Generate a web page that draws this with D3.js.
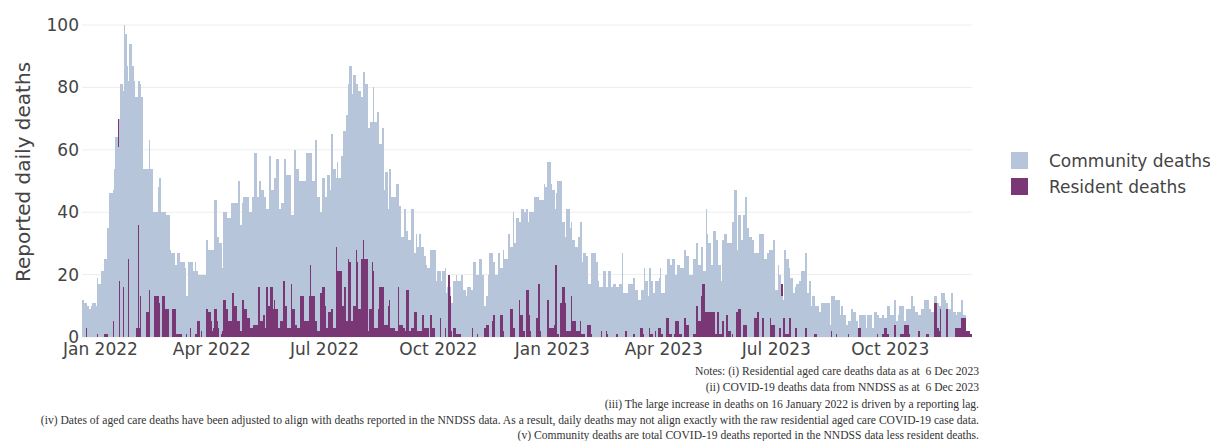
<!DOCTYPE html>
<html>
<head>
<meta charset="utf-8">
<script src="https://cdn.jsdelivr.net/npm/d3@7"></script>
<style>
  body { margin: 0; background: #fff; }
  svg text { font-family: "DejaVu Sans", Verdana, sans-serif; }
</style>
</head>
<body>
<div id="chart"></div>
<script>
// daily series, first bar is 18 Dec 2021
const startDate = "2021-12-18";

// height of the stacked bar (total reported deaths per day)
const totalDeaths = [
  12,12,11,11,10,10,9,10,11,11,
  11,10,19,17,17,21,21,21,25,25,
  35,35,46,46,46,47,54,64,64,70,
  70,81,81,79,100,97,87,82,94,94,
  87,87,82,77,77,82,82,81,77,54,
  54,54,54,54,63,54,54,40,40,40,
  40,48,51,51,40,40,40,40,39,39,
  39,28,27,27,27,23,23,27,27,24,
  24,24,24,22,13,13,24,24,24,24,
  21,24,21,21,20,20,20,20,20,20,
  31,31,28,28,28,28,28,44,44,32,
  32,30,30,22,40,40,40,38,38,38,
  43,43,43,43,43,43,50,50,36,43,
  45,45,45,45,45,40,40,45,45,59,
  59,45,45,50,50,47,47,45,45,41,
  41,58,58,47,47,51,51,57,57,41,
  41,43,43,57,57,52,52,52,52,39,
  39,60,60,54,54,50,50,50,50,50,
  50,59,59,59,59,59,50,50,63,63,
  45,45,40,40,51,51,45,45,52,52,
  47,65,65,54,54,51,56,51,51,58,
  58,66,66,71,71,81,87,87,78,84,
  84,81,81,79,79,77,77,85,85,81,
  81,67,67,69,69,80,69,69,72,72,
  62,62,67,67,47,53,53,41,54,54,
  45,45,45,45,49,49,42,42,32,32,
  41,41,34,31,31,31,41,41,27,27,
  33,29,33,33,29,29,26,26,23,22,
  22,28,28,28,28,28,18,21,21,21,
  18,21,21,22,14,16,20,16,11,11,
  18,18,20,18,18,18,20,20,15,15,
  13,16,16,16,15,15,24,24,20,20,
  20,25,25,20,20,10,13,13,20,27,
  27,27,24,24,20,20,27,27,22,22,
  28,25,25,25,33,33,29,29,40,30,
  30,38,38,37,37,41,41,40,40,41,
  37,40,40,40,40,45,45,45,45,44,
  44,44,44,49,48,48,56,56,56,49,
  47,47,41,46,50,50,50,50,37,37,
  32,41,41,41,35,37,31,31,29,29,
  29,32,37,37,24,27,27,26,26,17,
  17,27,27,27,27,24,24,18,16,16,
  16,21,21,16,16,21,21,16,16,17,
  17,16,16,16,17,17,27,14,14,14,
  14,17,17,17,17,19,19,15,15,12,
  12,12,15,15,22,18,18,13,22,22,
  18,14,14,18,18,18,19,22,14,14,
  14,20,20,25,25,23,23,25,25,20,
  20,23,23,22,22,22,28,28,26,26,
  20,20,20,20,25,25,30,30,23,23,
  29,29,21,21,41,33,30,30,23,23,
  34,34,31,31,23,23,18,31,31,33,
  33,30,30,30,30,37,37,47,47,28,
  39,39,31,31,39,39,45,35,35,32,
  32,31,31,27,27,27,27,33,33,33,
  33,25,25,27,27,28,28,28,31,31,
  15,15,23,20,20,17,12,28,28,25,
  25,22,19,19,14,14,16,17,17,18,
  18,21,21,21,27,27,14,18,18,10,
  13,13,10,10,10,8,8,11,11,11,
  11,11,11,11,4,13,13,13,12,12,
  12,12,7,10,10,7,7,4,4,5,
  5,9,9,8,8,5,5,3,7,7,
  7,7,7,3,7,7,7,7,3,3,
  8,8,7,7,6,6,7,7,6,6,
  10,10,10,7,7,7,12,12,5,7,
  10,10,10,10,5,5,9,9,9,9,
  13,10,10,8,8,7,7,7,9,9,
  12,12,12,12,9,9,8,8,13,13,
  13,11,10,10,14,14,14,12,11,11,
  9,9,14,14,8,8,7,8,8,8,
  12,12,7,7,2,2,2,1,1
];

const residentDeaths = [
  0,0,0,3,0,0,0,0,0,0,
  0,0,1,0,0,0,0,0,1,1,
  1,0,0,0,0,5,0,0,0,9,
  18,0,0,16,0,0,0,25,0,0,
  0,0,0,0,3,36,3,13,0,0,
  0,0,8,8,15,0,0,0,13,13,
  13,13,11,0,0,13,13,9,9,9,
  0,0,0,9,9,9,1,1,1,1,
  1,0,0,0,1,0,0,3,0,0,
  0,1,1,5,5,0,2,0,0,0,
  9,9,8,8,5,2,3,9,9,5,
  3,0,1,2,12,12,9,9,5,5,
  5,14,14,10,10,5,5,5,2,12,
  12,9,9,6,6,6,3,3,4,4,
  4,4,16,16,5,5,7,7,3,16,
  10,10,16,16,9,12,9,9,3,3,
  5,5,18,18,10,10,3,3,3,17,
  9,9,4,4,3,3,13,13,13,5,
  5,5,5,13,23,13,13,13,5,5,
  2,2,14,14,16,16,10,3,3,8,
  8,9,9,3,3,29,21,21,21,21,
  10,10,16,5,5,25,24,5,5,10,
  10,28,24,9,9,25,25,31,25,25,
  25,2,9,9,24,21,3,3,3,9,
  16,16,16,16,4,4,4,10,12,3,
  3,3,3,2,2,16,4,4,4,3,
  3,2,15,15,2,2,3,3,8,8,
  8,2,2,2,2,7,3,3,3,3,
  0,7,7,3,3,0,0,0,0,6,
  0,0,0,3,0,0,20,13,2,0,
  3,3,1,1,1,1,0,0,0,0,
  0,0,0,0,0,3,0,0,0,1,
  0,0,0,0,0,3,4,4,4,0,
  0,5,7,7,0,0,0,0,7,7,
  2,0,0,0,0,0,9,9,3,3,
  0,0,0,12,7,7,2,2,0,15,
  15,7,2,0,0,0,0,6,17,17,
  2,0,0,0,0,0,12,3,3,3,
  3,4,23,23,1,0,11,11,16,16,
  11,2,2,2,2,13,5,5,5,2,
  2,2,5,1,1,1,0,0,4,4,
  4,1,0,0,0,0,0,0,0,2,
  0,0,0,2,1,0,0,0,0,0,
  0,1,1,0,0,0,0,0,0,2,
  0,0,0,0,0,1,1,0,0,0,
  0,3,3,1,0,0,0,0,3,1,
  1,0,0,2,0,3,3,3,1,0,
  0,0,6,6,1,1,1,0,1,5,
  5,5,1,1,1,0,6,6,4,4,
  0,0,0,0,1,1,10,10,5,5,
  13,17,17,8,8,8,8,8,8,8,
  8,1,1,8,8,1,1,5,5,0,
  7,7,2,2,0,1,0,0,8,8,
  9,9,0,0,4,4,4,0,0,0,
  0,0,0,6,6,8,8,0,0,6,
  6,0,0,0,0,0,6,4,4,4,
  0,0,0,3,3,4,6,6,1,1,
  1,6,6,0,0,0,3,3,0,0,
  0,0,0,0,3,3,0,0,0,0,
  0,1,1,1,0,0,0,0,0,0,
  0,0,0,0,0,2,0,0,0,1,
  0,0,0,0,0,0,0,0,0,1,
  0,0,0,0,0,0,0,3,3,0,
  0,0,0,0,0,0,0,0,0,0,
  0,0,1,0,0,0,1,1,3,3,
  1,1,0,0,0,0,4,4,0,0,
  0,1,1,1,4,4,4,4,1,0,
  0,0,0,0,0,2,2,0,0,0,
  0,0,1,1,0,0,0,0,11,11,
  11,3,2,9,0,0,0,0,9,9,
  0,0,0,0,0,3,3,3,3,3,
  6,6,6,6,2,2,2,1,1
];

// days where the source draws the resident deaths above the community deaths
const residentOnTopDates = ["2022-01-16", "2023-07-06"];

const seriesNames = ["Community deaths", "Resident deaths"];
const yTicks = [0, 20, 40, 60, 80, 100];
const notes = [
  "Notes: (i) Residential aged care deaths data as at  6 Dec 2023",
  "(ii) COVID-19 deaths data from NNDSS as at  6 Dec 2023",
  "(iii) The large increase in deaths on 16 January 2022 is driven by a reporting lag.",
  "(iv) Dates of aged care deaths have been adjusted to align with deaths reported in the NNDSS data. As a result, daily deaths may not align exactly with the raw residential aged care COVID-19 case data.",
  "(v) Community deaths are total COVID-19 deaths reported in the NNDSS data less resident deaths."
];

const colors = { community: "#b6c5da", resident: "#7a3776" };

const W = 1210, H = 441;
const plot = { left: 82, right: 972, top: 25, bottom: 337 };

const parseDay = d3.utcParse("%Y-%m-%d");
const fmtDay = d3.utcFormat("%Y-%m-%d");
const t0 = parseDay(startDate);
// community = total less resident (as the source defines it)
const rows = totalDeaths.map((t, i) => {
  const date = d3.utcDay.offset(t0, i);
  return {
    date,
    resident: residentDeaths[i],
    community: t - residentDeaths[i],
    residentOnTop: residentOnTopDates.includes(fmtDay(date))
  };
});

const svg = d3.select("#chart").append("svg")
  .attr("width", W)
  .attr("height", H);

const x = d3.scaleUtc()
  .domain([d3.utcHour.offset(rows[0].date, -12), d3.utcHour.offset(rows[rows.length - 1].date, 12)])
  .range([plot.left, plot.right]);

const y = d3.scaleLinear()
  .domain([0, 100])
  .range([plot.bottom, plot.top]);

// gridlines
svg.append("g")
  .selectAll("line")
  .data(yTicks)
  .join("line")
  .attr("x1", plot.left)
  .attr("x2", plot.right)
  .attr("y1", d => y(d))
  .attr("y2", d => y(d))
  .attr("stroke", "#eeeeee")
  .attr("stroke-width", 1);

// stacked segments: resident at the bottom except on the flagged days
const segments = [];
rows.forEach(r => {
  const order = r.residentOnTop ? ["community", "resident"] : ["resident", "community"];
  let base = 0;
  order.forEach(key => {
    segments.push({ key, date: r.date, y0: base, y1: base + r[key] });
    base += r[key];
  });
});

svg.append("g")
  .selectAll("rect")
  .data(segments.filter(s => s.y1 > s.y0))
  .join("rect")
  .attr("fill", d => colors[d.key])
  .attr("x", d => x(d3.utcHour.offset(d.date, -12)))
  .attr("width", d => x(d3.utcHour.offset(d.date, 12)) - x(d3.utcHour.offset(d.date, -12)))
  .attr("y", d => y(d.y1))
  .attr("height", d => y(d.y0) - y(d.y1))
  .attr("shape-rendering", "crispEdges");

// x axis
const xAxis = svg.append("g")
  .attr("transform", `translate(0,${plot.bottom})`)
  .call(d3.axisBottom(x)
    .ticks(d3.utcMonth.every(3))
    .tickFormat(d3.utcFormat("%b %Y"))
    .tickSize(0)
    .tickPadding(6));
xAxis.select(".domain").remove();
xAxis.selectAll("text")
  .attr("fill", "#444")
  .style("font-size", "17px");

// y axis
const yAxis = svg.append("g")
  .attr("transform", `translate(${plot.left},0)`)
  .call(d3.axisLeft(y).tickValues(yTicks).tickSize(0).tickPadding(3));
yAxis.select(".domain").remove();
yAxis.selectAll("text")
  .attr("fill", "#444")
  .style("font-size", "17px");

svg.append("text")
  .attr("transform", `translate(30,${(plot.top + plot.bottom) / 2 - 9}) rotate(-90)`)
  .attr("text-anchor", "middle")
  .attr("fill", "#444")
  .style("font-size", "20px")
  .text("Reported daily deaths");

// legend
const legend = svg.append("g")
  .selectAll("g")
  .data([["community", seriesNames[0]], ["resident", seriesNames[1]]])
  .join("g")
  .attr("transform", (d, i) => `translate(1011,${152 + i * 26})`);

legend.append("rect")
  .attr("width", 17)
  .attr("height", 17)
  .attr("fill", d => colors[d[0]]);

legend.append("text")
  .attr("x", 38)
  .attr("y", 15)
  .attr("fill", "#444")
  .style("font-size", "17px")
  .text(d => d[1]);

// notes
svg.append("g")
  .selectAll("text")
  .data(notes)
  .join("text")
  .attr("x", 979)
  .attr("y", (d, i) => [375, 391, 408, 424, 439][i])
  .attr("text-anchor", "end")
  .attr("fill", "#333")
  .style("font-family", "'Liberation Serif', 'Times New Roman', serif")
  .style("font-size", "11.6px")
  .style("white-space", "pre")
  .text(d => d);
</script>
</body>
</html>
